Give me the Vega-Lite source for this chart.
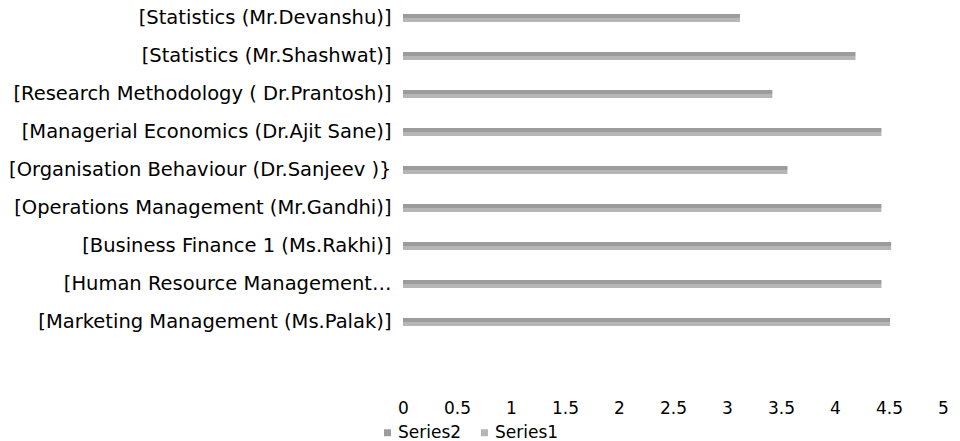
{
  "$schema": "https://vega.github.io/schema/vega-lite/v6.json",
  "width": 540,
  "height": 340,
  "autosize": {"type": "none"},
  "padding": {"left": 403, "top": 0, "right": 17, "bottom": 101},
  "background": "white",
  "config": {
    "view": {"stroke": null},
    "font": "DejaVu Sans",
    "axis": {"labelFont": "DejaVu Sans", "labelColor": "#000000"},
    "legend": {"labelFont": "DejaVu Sans", "labelColor": "#000000"}
  },
  "data": {
    "values": [
      {"course": "[Statistics (Mr.Devanshu)]", "series": "Series2", "value": 3.12},
      {"course": "[Statistics (Mr.Devanshu)]", "series": "Series1", "value": 3.12},
      {"course": "[Statistics (Mr.Shashwat)]", "series": "Series2", "value": 4.19},
      {"course": "[Statistics (Mr.Shashwat)]", "series": "Series1", "value": 4.19},
      {"course": "[Research Methodology ( Dr.Prantosh)]", "series": "Series2", "value": 3.42},
      {"course": "[Research Methodology ( Dr.Prantosh)]", "series": "Series1", "value": 3.42},
      {"course": "[Managerial Economics (Dr.Ajit Sane)]", "series": "Series2", "value": 4.43},
      {"course": "[Managerial Economics (Dr.Ajit Sane)]", "series": "Series1", "value": 4.43},
      {"course": "[Organisation Behaviour (Dr.Sanjeev )}", "series": "Series2", "value": 3.56},
      {"course": "[Organisation Behaviour (Dr.Sanjeev )}", "series": "Series1", "value": 3.56},
      {"course": "[Operations Management (Mr.Gandhi)]", "series": "Series2", "value": 4.43},
      {"course": "[Operations Management (Mr.Gandhi)]", "series": "Series1", "value": 4.43},
      {"course": "[Business Finance 1 (Ms.Rakhi)]", "series": "Series2", "value": 4.52},
      {"course": "[Business Finance 1 (Ms.Rakhi)]", "series": "Series1", "value": 4.52},
      {"course": "[Human Resource Management…", "series": "Series2", "value": 4.43},
      {"course": "[Human Resource Management…", "series": "Series1", "value": 4.43},
      {"course": "[Marketing Management (Ms.Palak)]", "series": "Series2", "value": 4.51},
      {"course": "[Marketing Management (Ms.Palak)]", "series": "Series1", "value": 4.51}
    ]
  },
  "mark": {"type": "bar"},
  "encoding": {
    "y": {
      "field": "course",
      "type": "nominal",
      "sort": null,
      "scale": {"paddingInner": 0.79, "paddingOuter": 0.37},
      "axis": {
        "title": null,
        "ticks": false,
        "domain": false,
        "labelFontSize": 19.5,
        "labelPadding": 12,
        "labelLimit": 420
      }
    },
    "yOffset": {"field": "series", "type": "nominal", "sort": ["Series2", "Series1"]},
    "x": {
      "field": "value",
      "type": "quantitative",
      "scale": {"domain": [0, 5], "nice": false},
      "axis": {
        "title": null,
        "values": [0, 0.5, 1, 1.5, 2, 2.5, 3, 3.5, 4, 4.5, 5],
        "format": "~g",
        "grid": false,
        "ticks": false,
        "domain": false,
        "labelFontSize": 17,
        "labelPadding": 60,
        "labelFlush": false
      }
    },
    "color": {
      "field": "series",
      "type": "nominal",
      "scale": {"domain": ["Series2", "Series1"], "range": ["#9c9c9c", "#b6b6b6"]},
      "legend": {
        "title": null,
        "orient": "none",
        "direction": "horizontal",
        "legendX": -24,
        "legendY": 424,
        "symbolType": "square",
        "symbolSize": 49,
        "labelFontSize": 17,
        "columnPadding": 14,
        "labelOffset": 2
      }
    }
  }
}
